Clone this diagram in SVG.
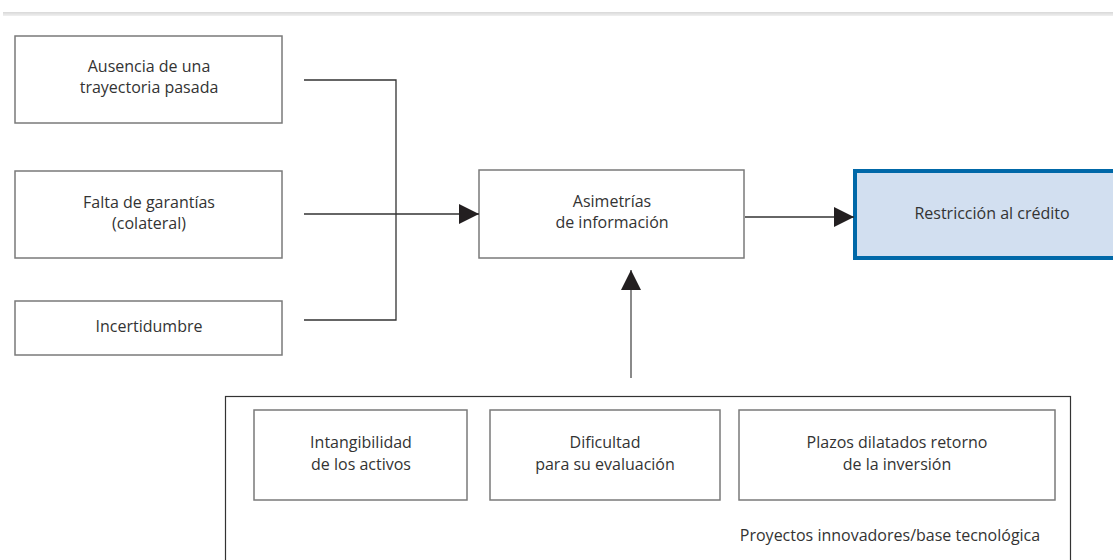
<svg xmlns="http://www.w3.org/2000/svg" width="1113" height="560" viewBox="0 0 1113 560">
<defs>
<linearGradient id="bar" x1="0" y1="0" x2="0" y2="1">
<stop offset="0" stop-color="#d8d8d8"/><stop offset="1" stop-color="#f0f0f0"/>
</linearGradient>
<marker id="ah" viewBox="0 0 20 20" refX="20" refY="10" markerWidth="20" markerHeight="20" markerUnits="userSpaceOnUse" orient="auto">
<path d="M0,0 L20,10 L0,20 Z" fill="#231f20"/>
</marker>
</defs>
<style>
.box{fill:#fff;stroke:#7a7a7a;stroke-width:1.5}
.t{font-family:"Open Sans","Liberation Sans",sans-serif;font-size:16px;fill:#333;text-anchor:middle}
.ln{fill:none;stroke:#333;stroke-width:1.3}
.gl{fill:none;stroke:#8a8a8a;stroke-width:2}
</style>
<rect x="3" y="12" width="1110" height="4" fill="url(#bar)"/>
<g id="n1"><rect class="box" x="15" y="36" width="267" height="87"/>
<text class="t" x="149" y="72">Ausencia de una</text><text class="t" x="149" y="93">trayectoria pasada</text></g>
<g id="n2"><rect class="box" x="15" y="171" width="267" height="87"/>
<text class="t" x="149" y="208">Falta de garantías</text><text class="t" x="149" y="229">(colateral)</text></g>
<g id="n3"><rect class="box" x="15" y="301" width="267" height="54"/>
<text class="t" x="149" y="332">Incertidumbre</text></g>
<g id="n4"><rect class="box" x="479" y="170" width="265" height="88"/>
<text class="t" x="612" y="207">Asimetrías</text><text class="t" x="612" y="228">de información</text></g>
<g id="n5"><rect x="855" y="171" width="260" height="87" fill="#d2dff0" stroke="#0068a8" stroke-width="4"/>
<text class="t" x="992" y="219">Restricción al crédito</text></g>
<g id="n6"><rect x="225.5" y="396.5" width="845" height="170" fill="#fff" stroke="#333" stroke-width="1.2"/>
<text class="t" x="890" y="541">Proyectos innovadores/base tecnológica</text></g>
<g id="n7"><rect class="box" x="254" y="410" width="213" height="90"/>
<text class="t" x="361" y="448">Intangibilidad</text><text class="t" x="361" y="470">de los activos</text></g>
<g id="n8"><rect class="box" x="490" y="410" width="230" height="90"/>
<text class="t" x="605" y="448">Dificultad</text><text class="t" x="605" y="470">para su evaluación</text></g>
<g id="n9"><rect class="box" x="739" y="410" width="316" height="90"/>
<text class="t" x="897" y="448">Plazos dilatados retorno</text><text class="t" x="897" y="470">de la inversión</text></g>
<g id="connectors">
<path class="ln" d="M304,80 H396 V320 H304"/>
<path class="ln" d="M304,214 H479" marker-end="url(#ah)"/>
<path class="ln" d="M745,217 H854" marker-end="url(#ah)"/>
<path class="gl" d="M631,378 V270" marker-end="url(#ah)"/>
</g>
</svg>
